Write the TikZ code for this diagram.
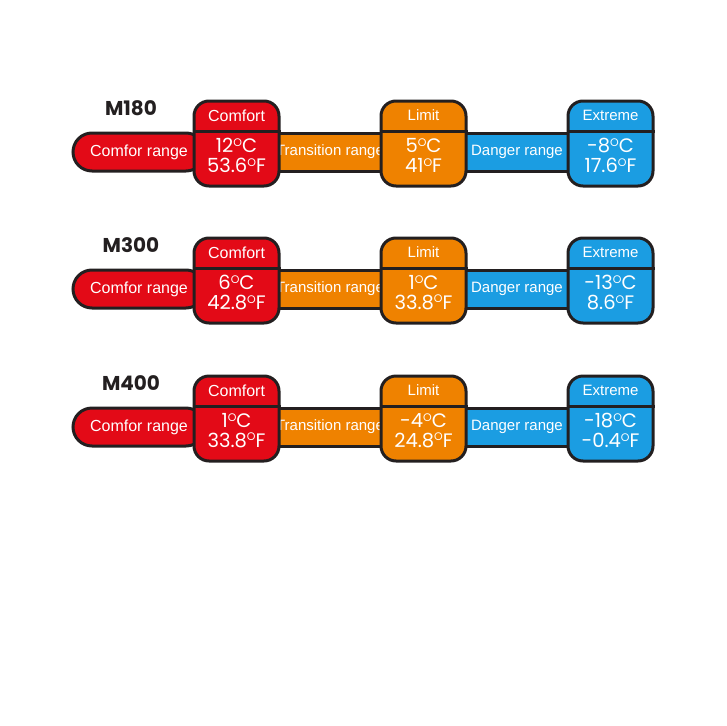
\documentclass[tikz,border=0pt]{standalone}
\usepackage{fontspec}
\setmainfont{Liberation Sans}
\newfontfamily\tempfont{Poppins}
\newfontfamily\modelfont{Poppins}
\usepackage{tikz}
\usetikzlibrary{positioning}
\definecolor{comfred}{HTML}{E30A17}
\definecolor{limitorange}{HTML}{EF8200}
\definecolor{extremeblue}{HTML}{1B9DE2}
\definecolor{outline}{HTML}{231F20}
\newcommand{\dgr}{\raisebox{0.32em}{\fontsize{11}{11}\selectfont O}}
\tikzstyle{bar} = [rectangle, draw=outline, line width=3pt, minimum height=38pt, inner sep=0pt, text=white, font=\fontsize{15}{15}\selectfont]
\tikzstyle{gauge} = [rectangle, rounded corners=15pt, draw=outline, line width=3pt, minimum width=85pt, minimum height=85pt, inner sep=0pt]
\tikzstyle{hdr} = [text=white, font=\fontsize{15}{15}\selectfont]
\tikzstyle{temp} = [text=white, align=center, font=\tempfont\fontsize{19.5}{19.5}\selectfont]
\tikzstyle{model} = [text=outline, font=\modelfont\bfseries\fontsize{20}{20}\selectfont]

\begin{document}
\begin{tikzpicture}[x=1pt, y=-1pt]
    \useasboundingbox (0,0) rectangle (726,726);

    \foreach \m/\y/\ta/\fa/\tb/\fb/\tc/\fc in {M180/101/12/53.6/5/41/-8/17.6,
                                              M300/238/6/42.8/1/33.8/-13/8.6,
                                              M400/376/1/33.8/-4/24.8/-18/-0.4} {
        % Barra
        \node (range\m) [bar, fill=comfred, rounded corners=19pt, minimum width=132pt, font=\fontsize{16}{16}\selectfont] at (139,\y+51) {Comfor range};
        \node (trans\m) [bar, fill=limitorange, minimum width=120pt] at (330,\y+51) {Transition range};
        \node (danger\m) [bar, fill=extremeblue, minimum width=120pt] at (517,\y+51) {Danger range};

        % Cajas
        \node (comf\m) [gauge, fill=comfred] at (236.5,\y+42.5) {};
        \node (lim\m) [gauge, fill=limitorange] at (423.5,\y+42.5) {};
        \node (ext\m) [gauge, fill=extremeblue] at (610.5,\y+42.5) {};
        \foreach \b in {comf\m, lim\m, ext\m}
            \draw [draw=outline, line width=3pt] ([yshift=-32pt]\b.north west) -- ([yshift=-32pt]\b.north east);

        % Textos
        \node (model\m) [model] at (131,\y+7) {\m};
        \node [hdr, font=\fontsize{16}{16}\selectfont] at ([yshift=-16pt]comf\m.north) {Comfort};
        \node [hdr] at ([yshift=-16pt]lim\m.north) {Limit};
        \node [hdr] at ([yshift=-16pt]ext\m.north) {Extreme};
        \node [temp] at ([yshift=-56pt]comf\m.north) {\ta\dgr C\\\fa\dgr F};
        \node [temp] at ([yshift=-56pt]lim\m.north) {\tb\dgr C\\\fb\dgr F};
        \node [temp] at ([yshift=-56pt]ext\m.north) {\tc\dgr C\\\fc\dgr F};
    }
\end{tikzpicture}
\end{document}
